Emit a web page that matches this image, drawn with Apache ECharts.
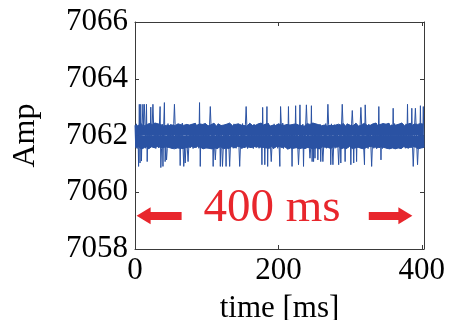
<!DOCTYPE html>
<html>
<head>
<meta charset="utf-8">
<script src="https://cdn.jsdelivr.net/npm/echarts@6/dist/echarts.min.js"></script>
<style>
html,body{margin:0;padding:0;background:#fff;}
#chart{width:449px;height:320px;}
</style>
</head>
<body>
<div id="chart"></div>
<script>
// Baseline noise band, one sample per ms (t = 0..403)
const noise = [
7062.36,7061.58,7062.41,7061.54,7062.34,7061.61,7062.39,7061.56,7062.43,7061.52,7062.37,7061.59,7062.33,7061.57,7062.40,7061.55,7062.38,7061.62,7062.35,7061.53,
7062.42,7061.58,7062.36,7061.60,7062.39,7061.55,7062.34,7061.57,7062.44,7061.54,7062.37,7061.61,7062.41,7061.56,7062.35,7061.59,7062.38,7061.53,7062.40,7061.57,
7062.33,7061.56,7062.39,7061.60,7062.36,7061.54,7062.42,7061.58,7062.35,7061.62,7062.40,7061.55,7062.37,7061.57,7062.43,7061.53,7062.34,7061.59,7062.38,7061.56,
7062.41,7061.61,7062.35,7061.55,7062.38,7061.58,7062.44,7061.54,7062.36,7061.60,7062.33,7061.57,7062.39,7061.52,7062.42,7061.59,7062.37,7061.56,7062.34,7061.61,
7062.40,7061.54,7062.36,7061.58,7062.43,7061.56,7062.35,7061.62,7062.38,7061.55,7062.41,7061.59,7062.34,7061.57,7062.39,7061.53,7062.37,7061.60,7062.42,7061.56,
7062.37,7061.59,7062.34,7061.55,7062.40,7061.61,7062.38,7061.53,7062.35,7061.58,7062.43,7061.56,7062.36,7061.60,7062.33,7061.54,7062.41,7061.57,7062.39,7061.62,
7062.35,7061.57,7062.42,7061.53,7062.37,7061.60,7062.33,7061.56,7062.40,7061.59,7062.36,7061.54,7062.44,7061.58,7062.38,7061.61,7062.34,7061.55,7062.41,7061.57,
7062.39,7061.55,7062.36,7061.62,7062.41,7061.57,7062.34,7061.59,7062.37,7061.53,7062.42,7061.58,7062.35,7061.56,7062.40,7061.60,7062.33,7061.54,7062.38,7061.59,
7062.43,7061.56,7062.38,7061.58,7062.35,7061.54,7062.40,7061.61,7062.36,7061.57,7062.34,7061.60,7062.41,7061.55,7062.37,7061.59,7062.44,7061.53,7062.36,7061.58,
7062.34,7061.60,7062.40,7061.56,7062.37,7061.59,7062.42,7061.55,7062.33,7061.58,7062.39,7061.62,7062.36,7061.54,7062.41,7061.57,7062.35,7061.61,7062.38,7061.55,
7062.41,7061.61,7062.35,7061.55,7062.38,7061.58,7062.44,7061.54,7062.36,7061.60,7062.33,7061.57,7062.39,7061.52,7062.42,7061.59,7062.37,7061.56,7062.34,7061.61,
7062.39,7061.55,7062.36,7061.62,7062.41,7061.57,7062.34,7061.59,7062.37,7061.53,7062.42,7061.58,7062.35,7061.56,7062.40,7061.60,7062.33,7061.54,7062.38,7061.59,
7062.42,7061.58,7062.36,7061.60,7062.39,7061.55,7062.34,7061.57,7062.44,7061.54,7062.37,7061.61,7062.41,7061.56,7062.35,7061.59,7062.38,7061.53,7062.40,7061.57,
7062.34,7061.60,7062.40,7061.56,7062.37,7061.59,7062.42,7061.55,7062.33,7061.58,7062.39,7061.62,7062.36,7061.54,7062.41,7061.57,7062.35,7061.61,7062.38,7061.55,
7062.37,7061.59,7062.34,7061.55,7062.40,7061.61,7062.38,7061.53,7062.35,7061.58,7062.43,7061.56,7062.36,7061.60,7062.33,7061.54,7062.41,7061.57,7062.39,7061.62,
7062.36,7061.58,7062.41,7061.54,7062.34,7061.61,7062.39,7061.56,7062.43,7061.52,7062.37,7061.59,7062.33,7061.57,7062.40,7061.55,7062.38,7061.62,7062.35,7061.53,
7062.43,7061.56,7062.38,7061.58,7062.35,7061.54,7062.40,7061.61,7062.36,7061.57,7062.34,7061.60,7062.41,7061.55,7062.37,7061.59,7062.44,7061.53,7062.36,7061.58,
7062.33,7061.56,7062.39,7061.60,7062.36,7061.54,7062.42,7061.58,7062.35,7061.62,7062.40,7061.55,7062.37,7061.57,7062.43,7061.53,7062.34,7061.59,7062.38,7061.56,
7062.35,7061.57,7062.42,7061.53,7062.37,7061.60,7062.33,7061.56,7062.40,7061.59,7062.36,7061.54,7062.44,7061.58,7062.38,7061.61,7062.34,7061.55,7062.41,7061.57,
7062.40,7061.54,7062.36,7061.58,7062.43,7061.56,7062.35,7061.62,7062.38,7061.55,7062.41,7061.59,7062.34,7061.57,7062.39,7061.53,7062.37,7061.60,7062.42,7061.56,
7062.37,7061.57,7062.40,7061.58
];

// Upward spikes (time in ms, amplitude)
const upSpikeTimes  = [6,8,11,13,16,22,25,35,41,55,90,105,155,178,184,203,214,224,230,239,246,269,289,303,315,321,322,340,360,380,386,391,398,402];
const upSpikeValues = [7063.10,7063.10,7063.10,7063.10,7063.10,7063.00,7063.10,7063.02,7063.16,7063.10,7063.16,7063.02,7063.02,7062.99,7063.02,7063.02,7063.02,7063.05,7063.08,7063.08,7063.05,7063.10,7063.10,7062.88,7062.99,7063.08,7063.05,7063.02,7062.96,7063.10,7062.96,7062.96,7063.05,7063.02];

// Downward spikes (time in ms, amplitude)
const downSpikeTimes  = [5,7,9,17,36,39,42,44,63,68,70,74,91,109,112,119,122,127,132,146,177,181,185,190,202,219,228,235,244,247,249,251,255,259,262,273,276,284,287,293,301,305,309,320,330,343,388,394];
const downSpikeValues = [7060.91,7061.03,7061.10,7061.08,7060.87,7060.91,7061.08,7061.14,7060.94,7060.91,7061.03,7061.08,7060.91,7060.91,7061.14,7060.91,7060.91,7060.91,7060.91,7060.91,7060.97,7060.97,7060.91,7061.08,7060.91,7060.91,7060.97,7060.91,7061.20,7061.08,7061.08,7061.20,7061.14,7061.08,7061.08,7060.97,7060.97,7060.97,7061.03,7061.08,7060.97,7061.03,7061.08,7060.97,7060.91,7061.14,7060.91,7060.97];

const xTicks = [0, 200, 400];
const yTicks = [7058, 7060, 7062, 7064, 7066];
const bandCentre = 7062;

// Annotation: "400 ms" span with arrows
const spanLabel = '400 ms';
const spanY = 7059.17;
const leftArrow = [65, 12];    // tail, tip-anchor (ms)
const rightArrow = [326, 377];
const spanLabelPos = [191, 7059.42];

// Signal = noise with spikes substituted at their samples
const values = noise.slice();
upSpikeTimes.forEach((t, i) => { values[t] = upSpikeValues[i]; });
downSpikeTimes.forEach((t, i) => { values[t] = downSpikeValues[i]; });
const data = values.map((v, t) => [t, v]);

// Envelopes of the noise band: peaks (even samples) and troughs (odd samples)
const peaks = [], troughs = [];
noise.forEach((v, t) => { (t % 2 === 0 ? peaks : troughs).push([t, v]); });

const font = 'Liberation Serif';
const red = '#e8262c';
const frame = '#3a3a3a';
const blue = '#2a52a3';

const chart = echarts.init(document.getElementById('chart'), null, {renderer: 'canvas'});

const xBase = {
  type: 'value', min: 0, max: 403, interval: 200,
  splitLine: {show: false},
  axisLine: {show: true, onZero: false, lineStyle: {color: frame, width: 1}},
  axisTick: {show: true, inside: true, length: 4, lineStyle: {color: frame}},
};
const yBase = {
  type: 'value', min: yTicks[0], max: yTicks[yTicks.length - 1], interval: 2,
  splitLine: {show: false},
  axisLine: {show: true, onZero: false, lineStyle: {color: frame, width: 1}},
  axisTick: {show: true, inside: true, length: 4, lineStyle: {color: frame}},
};

const envSeries = (pts) => ({
  type: 'line', silent: true, data: pts,
  showSymbol: false, symbol: 'none',
  lineStyle: {color: blue, width: 1},
  areaStyle: {color: blue, opacity: 1, origin: bandCentre},
  z: 1
});

chart.setOption({
  animation: false,
  backgroundColor: '#fff',
  grid: {left: 135, top: 22, width: 289, height: 227, containLabel: false, outerBoundsMode: 'none'},
  xAxis: [
    Object.assign({}, xBase, {
      position: 'bottom',
      name: 'time [ms]', nameLocation: 'middle', nameGap: 44,
      nameTextStyle: {fontFamily: font, fontSize: 31, color: '#000'},
      axisLabel: {show: true, fontFamily: font, fontSize: 31, color: '#000', margin: 6,
        formatter: v => xTicks.includes(v) ? String(v) : ''}
    }),
    Object.assign({}, xBase, {position: 'top', axisLabel: {show: false}})
  ],
  yAxis: [
    Object.assign({}, yBase, {
      position: 'left',
      name: 'Amp', nameLocation: 'middle', nameGap: 93, nameRotate: 90,
      nameTextStyle: {fontFamily: font, fontSize: 32, color: '#000'},
      axisLabel: {show: true, fontFamily: font, fontSize: 31, color: '#000', margin: 7,
        formatter: v => yTicks.includes(v) ? String(v) : ''}
    }),
    Object.assign({}, yBase, {position: 'right', axisLabel: {show: false}})
  ],
  series: [
    envSeries(peaks),
    envSeries(troughs),
    {
      type: 'line',
      data: data,
      showSymbol: false,
      symbol: 'none',
      sampling: null,
      lineStyle: {color: blue, width: 1},
      itemStyle: {color: blue},
      silent: true, z: 2,
      markLine: {
        silent: true,
        symbol: ['none', 'triangle'],
        symbolSize: [17, 14],
        lineStyle: {color: red, width: 8, type: 'solid'},
        itemStyle: {color: red},
        label: {show: false},
        data: [
          [{coord: [leftArrow[0], spanY]}, {coord: [leftArrow[1], spanY]}],
          [{coord: [rightArrow[0], spanY]}, {coord: [rightArrow[1], spanY]}]
        ]
      },
      markPoint: {
        silent: true,
        symbol: 'circle', symbolSize: 0,
        itemStyle: {color: 'rgba(0,0,0,0)'},
        label: {show: true, position: 'inside', formatter: spanLabel,
          fontFamily: font, fontSize: 47, color: red},
        data: [{coord: spanLabelPos}]
      }
    }
  ]
});
</script>
</body>
</html>
